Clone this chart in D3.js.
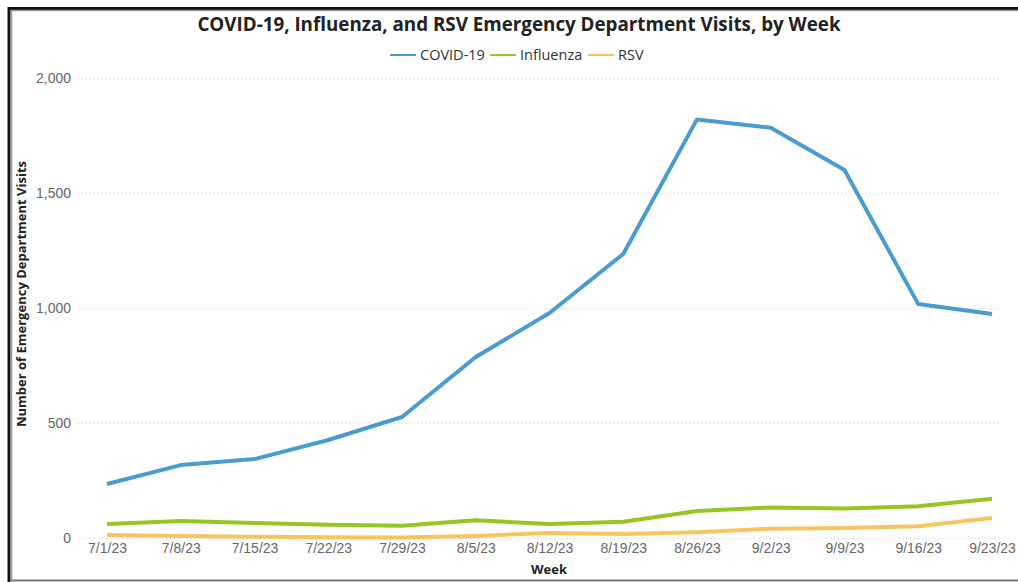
<!DOCTYPE html>
<html lang="en">
<head>
  <meta charset="UTF-8">
  <title>ED Visits</title>
  <style>
    html, body { margin: 0; padding: 0; background: #fff; }
    svg { display: block; font-family: "Open Sans", sans-serif; }
    .y-axis path, .y-axis line, .x-axis path, .x-axis line { display: none; }
    .y-axis text, .x-axis text { font-size: 14px; fill: #666; }
    .grid line { stroke: #c8c8c8; stroke-width: 1; stroke-dasharray: 1 3; }
  </style>
  <script src="https://cdn.jsdelivr.net/npm/d3@7"></script>
</head>
<body>
<script>
  // data
  const weeks = ['7/1/23', '7/8/23', '7/15/23', '7/22/23', '7/29/23', '8/5/23', '8/12/23',
    '8/19/23', '8/26/23', '9/2/23', '9/9/23', '9/16/23', '9/23/23'];
  const covid = [235, 317, 343, 426, 526, 787, 978, 1235, 1820, 1784, 1600, 1017, 974];
  const influenza = [61, 74, 65, 58, 53, 77, 61, 71, 117, 133, 128, 138, 171];
  const rsv = [13, 9, 5, 3, 2, 9, 22, 17, 25, 40, 43, 51, 87];
  const yTicks = [0, 500, 1000, 1500, 2000];

  const seriesNames = ['COVID-19', 'Influenza', 'RSV'];
  const seriesValues = [covid, influenza, rsv];
  const colors = ['#4a9ccf', '#95c623', '#f6c560'];

  const width = 1018;
  const height = 582;
  const plotLeft = 107;
  const plotRight = 992;
  const plotTop = 78;
  const plotBottom = 538;

  const svg = d3.select('body').append('svg')
    .attr('width', width)
    .attr('height', height);

  // frame
  svg.append('path')
    .attr('d', `M9,${height} V8.5 H${width}`)
    .attr('fill', 'none').attr('stroke', '#111').attr('stroke-width', 3);
  svg.append('path')
    .attr('d', `M11.5,${height - 1} V10.5 H${width}`)
    .attr('fill', 'none').attr('stroke', '#999').attr('stroke-width', 1.5);
  svg.append('line')
    .attr('x1', 11).attr('x2', width).attr('y1', 580.5).attr('y2', 580.5)
    .attr('stroke', '#777').attr('stroke-width', 2);

  const xScale = d3.scalePoint()
    .domain(weeks)
    .range([plotLeft, plotRight]);
  const yScale = d3.scaleLinear()
    .domain([0, 2000])
    .range([plotBottom, plotTop]);

  // gridlines
  svg.append('g')
    .attr('class', 'grid')
    .selectAll('line')
    .data(yTicks)
    .enter()
    .append('line')
    .attr('x1', 78)
    .attr('x2', 1002)
    .attr('y1', (d) => yScale(d) + 0.5)
    .attr('y2', (d) => yScale(d) + 0.5);

  // axes
  svg.append('g')
    .attr('class', 'y-axis')
    .attr('transform', 'translate(78,0)')
    .call(d3.axisLeft(yScale).tickValues(yTicks).tickFormat(d3.format(',')).tickSize(0).tickPadding(7));

  svg.append('g')
    .attr('class', 'x-axis')
    .attr('transform', `translate(0,${plotBottom})`)
    .call(d3.axisBottom(xScale).tickSize(0).tickPadding(5));

  // lines
  const line = d3.line()
    .x((d, i) => xScale(weeks[i]))
    .y((d) => yScale(d));

  svg.append('g')
    .selectAll('path')
    .data(seriesValues)
    .enter()
    .append('path')
    .attr('d', (d) => line(d))
    .attr('fill', 'none')
    .attr('stroke', (d, i) => colors[i])
    .attr('stroke-width', 4)
    .attr('stroke-linejoin', 'round');

  // title
  svg.append('text')
    .attr('x', 519)
    .attr('y', 31)
    .attr('text-anchor', 'middle')
    .attr('font-size', 18.8)
    .attr('font-weight', 'bold')
    .attr('fill', '#222')
    .text('COVID-19, Influenza, and RSV Emergency Department Visits, by Week');

  // legend
  const legendX = [390, 490, 588];
  const legend = svg.append('g')
    .selectAll('g')
    .data(seriesNames)
    .enter()
    .append('g')
    .attr('transform', (d, i) => `translate(${legendX[i]},55)`);
  legend.append('line')
    .attr('x1', 0).attr('x2', 26)
    .attr('stroke', (d, i) => colors[i])
    .attr('stroke-width', 2);
  legend.append('text')
    .attr('x', 30)
    .attr('y', 5)
    .attr('font-size', 14.5)
    .attr('fill', '#333')
    .text((d) => d);

  // axis titles
  svg.append('text')
    .attr('x', 549)
    .attr('y', 574)
    .attr('text-anchor', 'middle')
    .attr('font-size', 13)
    .attr('font-weight', 'bold')
    .attr('fill', '#222')
    .text('Week');

  svg.append('text')
    .attr('transform', 'translate(26,294) rotate(-90)')
    .attr('text-anchor', 'middle')
    .attr('font-size', 13)
    .attr('font-weight', 'bold')
    .attr('fill', '#222')
    .text('Number of Emergency Department Visits');
</script>
</body>
</html>
